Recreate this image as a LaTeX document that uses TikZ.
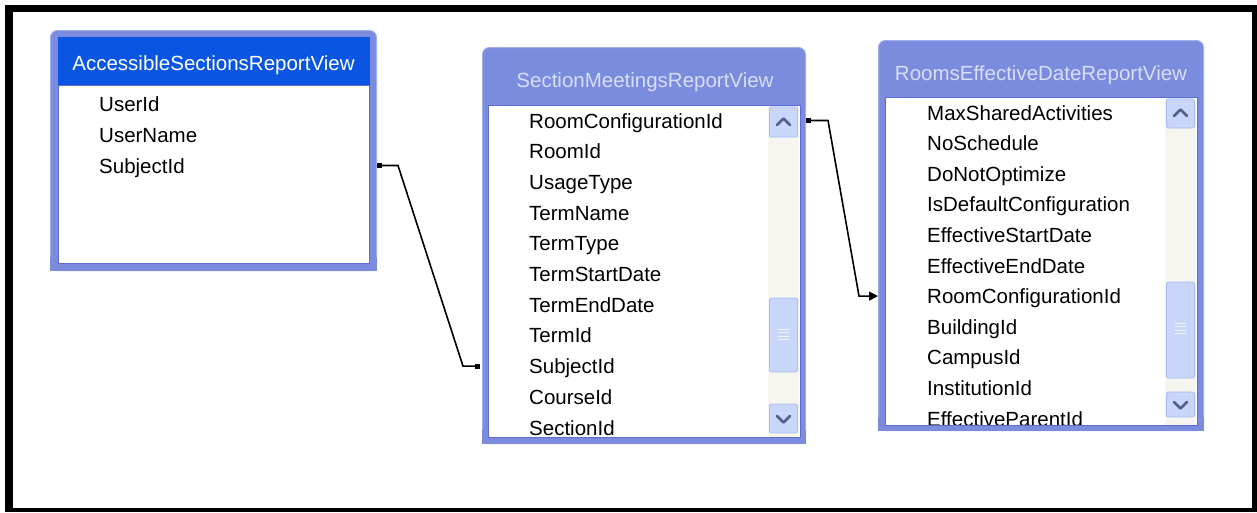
\documentclass[tikz,border=0pt]{standalone}
\usepackage{fontspec}
\setmainfont{Liberation Sans}
\usetikzlibrary{arrows.meta,calc}
\definecolor{bord}{RGB}{123,140,222}
\definecolor{bordlt}{RGB}{160,174,236}
\definecolor{borddk}{RGB}{92,108,206}
\definecolor{selhead}{RGB}{10,86,226}
\definecolor{titlt}{RGB}{214,222,248}
\definecolor{track}{RGB}{246,245,240}
\definecolor{btn}{RGB}{200,214,252}
\definecolor{btnedge}{RGB}{168,188,242}
\definecolor{arrowc}{RGB}{77,97,138}
\definecolor{grip}{RGB}{236,242,255}
\begin{document}
\begin{tikzpicture}[x=1pt,y=-1pt,
  font=\fontsize{20.5}{24}\selectfont,
  tbl/.style={draw=bordlt, fill=bord, line width=1pt, rounded corners=7pt, inner sep=0pt, anchor=north west},
  field/.style={anchor=west, inner sep=0pt, text height=0.716em, text depth=0pt},
  title/.style={inner sep=0pt, text height=0.716em, text depth=0pt},
  conn/.style={line width=1.6pt, black},
  btnbox/.style={fill=btn, draw=btnedge, line width=0.8pt, rounded corners=2pt},
  chev/.style={arrowc, line width=2.6pt, line cap=round, line join=round}
]
% canvas and frame
\useasboundingbox (0,0) rectangle (1257,512);
\fill[white] (0,0) rectangle (1257,512);
\fill[black] (5,5) rectangle (1257,512);
\fill[white] (13,12) rectangle (1252,508);

% ---------- Table 1 ----------
\node[tbl, minimum width=326pt, minimum height=240pt] (t1) at (50,30) {};
\fill[bord] ([yshift=14pt]t1.south west) rectangle (t1.south east);
\fill[selhead] (58,37) rectangle (370,85);
\fill[white] (58,85) rectangle (369,263);
\draw[borddk, line width=1pt] (58,85) rectangle (369,263);
\node[title, text=white] (t1h) at (213.5,67) {AccessibleSectionsReportView};
\foreach \name [count=\i] in {UserId,UserName,SubjectId}
  \node[field] (t1f\i) at (99,{107.5+31*(\i-1)}) {\name};

% ---------- Table 2 ----------
\node[tbl, minimum width=323pt, minimum height=396pt] (t2) at (482,47) {};
\fill[bord] ([yshift=14pt]t2.south west) rectangle (t2.south east);
\fill[white] (488,105) rectangle (800,437);
\node[title, text=titlt] (t2h) at (645,84) {SectionMeetingsReportView};
\begin{scope}
  \clip (488,105) rectangle (768,437);
  \foreach \name [count=\i] in {RoomConfigurationId,RoomId,UsageType,TermName,TermType,TermStartDate,TermEndDate,TermId,SubjectId,CourseId,SectionId}
    \node[field] (t2f\i) at (529,{124.5+30.7*(\i-1)}) {\name};
\end{scope}
\fill[track] (768,105) rectangle (799,437);
\draw[borddk, line width=1pt] (488,105) rectangle (800,437);
\draw[btnbox] (769.5,107) rectangle (797.5,137);
\draw[chev] (777,125) -- (783.5,118.5) -- (790,125);
\draw[btnbox] (769.5,298) rectangle (797.5,372);
\foreach \k in {0,1,2,3}
  \draw[grip, line width=1pt] (778,{329+3.5*\k}) -- (789,{329+3.5*\k});
\draw[btnbox] (769.5,404) rectangle (797.5,433);
\draw[chev] (777,416) -- (783.5,422.5) -- (790,416);

% ---------- Table 3 ----------
\node[tbl, minimum width=325pt, minimum height=390pt] (t3) at (878,40) {};
\fill[bord] ([yshift=14pt]t3.south west) rectangle (t3.south east);
\fill[white] (885,97) rectangle (1197,425);
\node[title, text=titlt] (t3h) at (1041,77) {RoomsEffectiveDateReportView};
\begin{scope}
  \clip (885,97) rectangle (1165,425);
  \foreach \name [count=\i] in {MaxSharedActivities,NoSchedule,DoNotOptimize,IsDefaultConfiguration,EffectiveStartDate,EffectiveEndDate,RoomConfigurationId,BuildingId,CampusId,InstitutionId,EffectiveParentId}
    \node[field] (t3f\i) at (927,{116.5+30.6*(\i-1)}) {\name};
\end{scope}
\fill[track] (1165,97) rectangle (1196,425);
\draw[borddk, line width=1pt] (885,97) rectangle (1197,425);
\draw[btnbox] (1166.5,99) rectangle (1194.5,128);
\draw[chev] (1174,116) -- (1180.5,109.5) -- (1187,116);
\draw[btnbox] (1166.5,282) rectangle (1194.5,378);
\foreach \k in {0,1,2,3}
  \draw[grip, line width=1pt] (1175,{323+3.5*\k}) -- (1186,{323+3.5*\k});
\draw[btnbox] (1166.5,392) rectangle (1194.5,417);
\draw[chev] (1174,402) -- (1180.5,408.5) -- (1187,402);

% ---------- Connectors ----------
\coordinate (c1s) at ([yshift=4pt]t1.east |- t1f3);
\coordinate (c1e) at ([xshift=-3pt,yshift=4pt]t2.west |- t2f9);
\draw[conn] (c1s) -- ++(21,0) -- ($(c1e)+(-16,0)$) -- (c1e);
\fill[black] ($(c1s)+(0,-2.5)$) rectangle ($(c1s)+(5,2.5)$);
\fill[black] ($(c1e)+(-4,-2.5)$) rectangle ($(c1e)+(1,2.5)$);

\coordinate (c2s) at ([yshift=4pt]t2.east |- t2f1);
\coordinate (c2e) at ([yshift=4pt]t3.west |- t3f7);
\draw[conn, -{Triangle[length=9pt,width=9pt]}] (c2s) -- ++(22,0) -- ($(c2e)+(-19,0)$) -- (c2e);
\fill[black] ($(c2s)+(0,-2.5)$) rectangle ($(c2s)+(5,2.5)$);
\end{tikzpicture}
\end{document}
